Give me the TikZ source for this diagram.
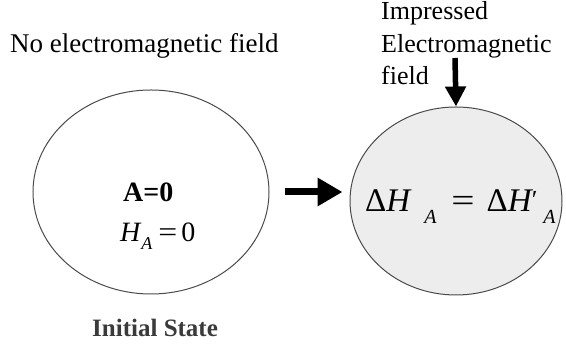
\documentclass[tikz,border=0pt]{standalone}
\usepackage{fontspec}
\setmainfont{Liberation Serif}
\usetikzlibrary{shapes.geometric,arrows.meta}
\definecolor{edge}{HTML}{4A4A4A}
\definecolor{shade}{HTML}{EDEDED}
\definecolor{captxt}{HTML}{3A3A3A}
\newcommand{\fs}[1]{\fontsize{#1}{#1}\selectfont}
\begin{document}
\begin{tikzpicture}[x=1pt,y=1pt,
  oval/.style={ellipse, draw=edge, line width=1pt, inner sep=0pt},
  lbl/.style={anchor=base west, inner sep=0pt, text=black},
  bigarrow/.style={line width=7pt, -{Triangle[length=25pt,width=27pt]}},
  downarrow/.style={line width=5.5pt, -{Triangle[length=20pt,width=20pt]}}]
\useasboundingbox (0,0) rectangle (566,347);
% ellipses
\node[oval, minimum width=236pt, minimum height=204pt] (L) at (151,155) {};
\node[oval, fill=shade, minimum width=212pt, minimum height=188pt] (R) at (456,146) {};
% top labels
\node[lbl] (noem) at (10,294) {\fs{27}No electromagnetic field};
\node[lbl] (imp1) at (381,327) {\fs{26}Impressed};
\node[lbl] (imp2) at (381,294) {\fs{26}Electromagnetic};
\node[lbl] (imp3) at (381,262) {\fs{26}field};
% left content
\node[lbl] (a0) at (123,145) {\fs{28}\bfseries A=0};
\node[lbl] (ha) at (120,105) {\fs{28}\itshape H\hspace{1pt}\raisebox{-8pt}{\fs{18}A}\hspace{6pt}\upshape\scalebox{1.2}[1]{=}\hspace{4pt}0};
% right content
\node[lbl] (dh) at (365,135) {\fs{33}\upshape Δ\itshape H\hspace{14pt}\raisebox{-12pt}{\fs{20}A}\hspace{15pt}\upshape\scalebox{1.25}[1]{=}\hspace{12pt}Δ\itshape H\raisebox{3pt}{\fs{26}\upshape′}\hspace{6pt}\raisebox{-12pt}{\fs{20}A}};
% caption
\node[lbl, text=captxt] (init) at (92,10) {\fs{25}\bfseries Initial State};
% arrows
\coordinate (ftop) at (455,289);
\draw[bigarrow, shorten <=15pt, shorten >=7pt] (L.east) -- (R.west |- L.east);
\draw[downarrow] (ftop) -- (R.north);
\end{tikzpicture}
\end{document}
